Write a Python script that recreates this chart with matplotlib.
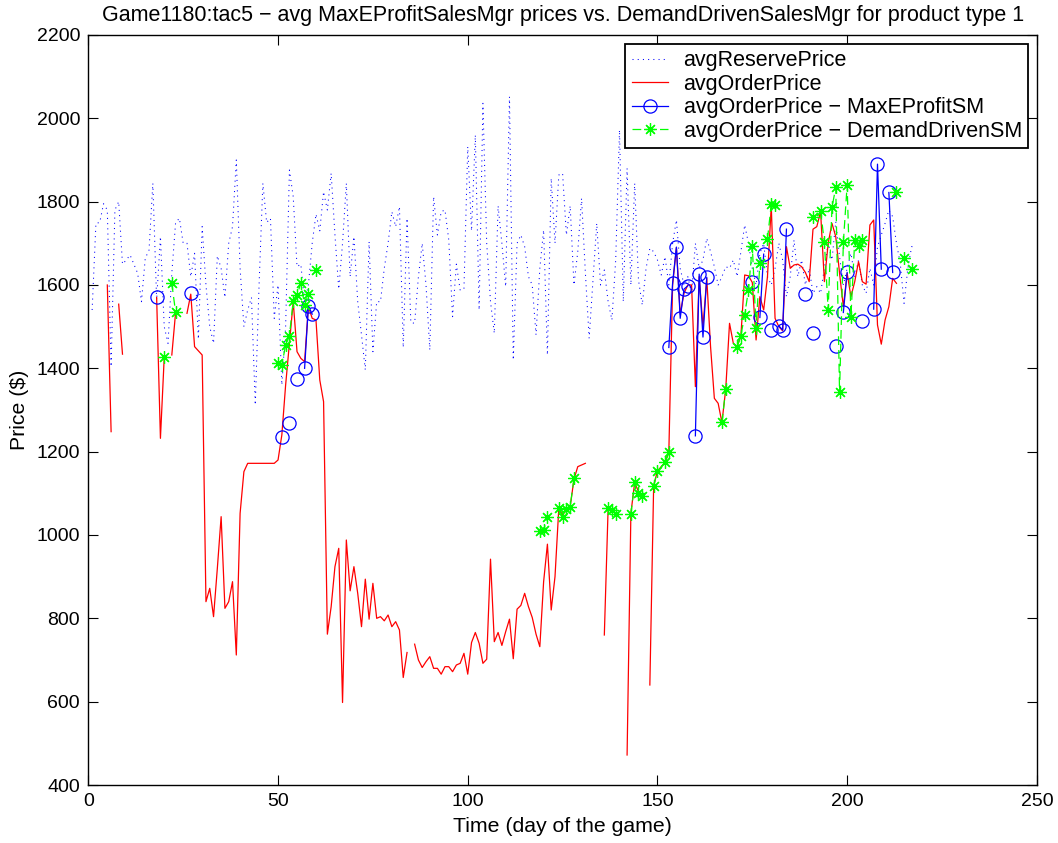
"""
Reserve vs. order prices per sales manager, product type 1 (Game1180:tac5).
"""
import numpy as np
import pandas as pd
import matplotlib
matplotlib.use("Agg")
import matplotlib.pyplot as plt

# Data (day -> $)

reserve_start_day = 1
reserve_price = [
    1540, 1748, 1750, 1795, 1780, 1404, 1780, 1800, 1650, 1660,   # 1-10
    1672, 1650, 1628, 1560, 1664, 1684, 1844, 1564, 1716, 1500,   # 11-20
    1460, 1628, 1750, 1760, 1700, 1700, 1620, 1676, 1470, 1740,   # 21-30
    1600, 1500, 1460, 1670, 1640, 1570, 1700, 1740, 1900, 1640,   # 31-40
    1500, 1540, 1570, 1312, 1600, 1844, 1750, 1760, 1520, 1600,   # 41-50
    1360, 1500, 1876, 1812, 1644, 1650, 1560, 1600, 1700, 1770,   # 51-60
    1730, 1824, 1780, 1868, 1720, 1590, 1700, 1844, 1620, 1716,   # 61-70
    1560, 1480, 1396, 1704, 1440, 1560, 1560, 1640, 1700, 1776,   # 71-80
    1740, 1788, 1450, 1760, 1510, 1508, 1620, 1700, 1600, 1444,   # 81-90
    1812, 1720, 1776, 1780, 1708, 1524, 1650, 1588, 1590, 1932,   # 91-100
    1730, 1960, 1540, 2036, 1700, 1560, 1484, 1790, 1700, 1596,   # 101-110
    2052, 1420, 1700, 1720, 1692, 1620, 1600, 1480, 1640, 1732,   # 111-120
    1432, 1856, 1700, 1864, 1868, 1720, 1790, 1600, 1680, 1808,   # 121-130
    1630, 1472, 1610, 1748, 1600, 1636, 1560, 1516, 1660, 1972,   # 131-140
    1560, 1880, 1600, 1844, 1612, 1552, 1640, 1688, 1680, 1660,   # 141-150
    1624, 1668, 1600, 1700, 1756, 1640, 1600, 1620, 1580, 1700,   # 151-160
    1640, 1660, 1712, 1680, 1644, 1600, 1620, 1644, 1640, 1660,   # 161-170
    1620, 1680, 1744, 1700, 1640, 1600, 1676, 1700, 1620, 1600,   # 171-180
    1640, 1700, 1660, 1572, 1620, 1708, 1620, 1660, 1600, 1640,   # 181-190
    1580, 1596, 1580, 1640, 1700, 1660, 1752, 1668, 1600, 1640,   # 191-200
    1676, 1620, 1660, 1600, 1580, 1640, 1600, 1692, 1720, 1748,   # 201-210
    1780, 1764, 1700, 1652, 1556, 1640, 1692, 1692,               # 211-218
]

order_days = [
    5, 6, 8, 9, 18, 19, 20, 22, 23, 26, 27, 28, 29, 30,
    31, 32, 33, 34, 35, 36, 37, 38, 39, 40, 41, 42, 43, 44, 45,
    46, 47, 48, 49, 50, 51, 52, 53, 54, 55, 56, 57, 58, 59, 60,
    61, 62, 63, 64, 65, 66, 67, 68, 69, 70, 71, 72, 73, 74, 75,
    76, 77, 78, 79, 80, 81, 82, 83, 84, 86, 87, 88, 89, 90,
    91, 92, 93, 94, 95, 96, 97, 98, 99, 100, 101, 102, 103, 104, 105,
    106, 107, 108, 109, 110, 111, 112, 113, 114, 115, 116, 117, 118, 119, 120,
    121, 122, 123, 124, 125, 126, 127, 128, 129, 130, 131,
    136, 137, 138, 139, 142, 143, 144, 145, 146, 148, 149, 150, 151, 152, 153,
    154, 155, 156, 157, 158, 159, 160, 161, 162, 163, 164, 165, 166, 167, 168,
    169, 170, 171, 172, 173, 174, 175, 176, 177, 178, 179, 180, 181, 182, 183,
    184, 185, 186, 187, 188, 189, 190, 191, 192, 193, 194, 195, 196, 197, 198,
    199, 200, 201, 202, 203, 204, 205, 206, 207, 208, 209, 210, 211, 212, 213,
]
order_price = [
    1600, 1248, 1554, 1434, 1570, 1232, 1426, 1432, 1534, 1532, 1578, 1452, 1442, 1432,
    840, 872, 804, 920, 1044, 824, 840, 888, 712, 1052, 1152, 1172, 1172, 1172, 1172,
    1172, 1172, 1172, 1172, 1180, 1240, 1360, 1460, 1560, 1440, 1424, 1416, 1548, 1520, 1516,
    1372, 1320, 762, 828, 924, 968, 598, 988, 866, 924, 860, 780, 894, 798, 884,
    800, 804, 794, 808, 780, 792, 772, 658, 718, 738, 700, 682, 696, 708,
    680, 680, 666, 684, 684, 672, 688, 692, 716, 666, 742, 766, 740, 692, 702,
    942, 744, 766, 735, 768, 798, 703, 822, 831, 860, 828, 802, 762, 732, 888,
    978, 820, 900, 1064, 1048, 1060, 1068, 1134, 1164, 1168, 1172,
    760, 1064, 1060, 1050, 472, 1052, 1126, 1104, 1094, 640, 1118, 1154, 1164, 1174, 1198,
    1600, 1690, 1530, 1580, 1600, 1600, 1356, 1620, 1500, 1616, 1452, 1328, 1316, 1270, 1350,
    1508, 1460, 1452, 1478, 1624, 1622, 1606, 1468, 1572, 1540, 1620, 1790, 1520, 1500, 1490,
    1692, 1640, 1648, 1650, 1644, 1630, 1608, 1734, 1740, 1776, 1608, 1700, 1748, 1716, 1628,
    1548, 1628, 1572, 1608, 1656, 1608, 1602, 1744, 1756, 1504, 1458, 1516, 1548, 1616, 1604,
]

maxe_days = [
    18, 27, 51, 53, 55, 57, 58, 59, 153, 154, 155, 156, 157, 158,
    160, 161, 162, 163, 175, 177, 178, 180, 182, 183, 184, 189, 191,
    197, 199, 200, 204, 207, 208, 209, 211, 212,
]
maxe_price = [
    1572, 1580, 1236, 1268, 1374, 1400, 1550, 1530, 1450, 1605, 1691, 1520, 1590, 1598,
    1238, 1626, 1475, 1618, 1606, 1522, 1674, 1492, 1502, 1492, 1734, 1578, 1484,
    1454, 1534, 1630, 1513, 1542, 1890, 1638, 1822, 1630,
]

demand_days = [
    20, 22, 23, 50, 51, 52, 53, 54, 55, 56, 57, 58, 60,
    119, 120, 121, 124, 125, 126, 127, 128, 137, 138, 139,
    143, 144, 145, 146, 149, 150, 152, 153, 167, 168,
    171, 172, 173, 174, 175, 176, 177, 179, 180, 181,
    191, 193, 194, 195, 196, 197, 198, 199, 200, 201, 202, 203, 204,
    213, 215, 217,
]
demand_price = [
    1426, 1604, 1534, 1412, 1408, 1456, 1478, 1562, 1576, 1604, 1552, 1578, 1636,
    1010, 1012, 1042, 1064, 1044, 1062, 1068, 1136, 1064, 1060, 1050,
    1050, 1126, 1100, 1094, 1118, 1154, 1174, 1198, 1270, 1350,
    1452, 1478, 1529, 1588, 1694, 1496, 1652, 1710, 1794, 1792,
    1762, 1778, 1702, 1540, 1786, 1834, 1342, 1702, 1840, 1524, 1708, 1694, 1708,
    1822, 1664, 1638,
]

TITLE = ("Game1180:tac5 \u2212 avg MaxEProfitSalesMgr prices vs. "
         "DemandDrivenSalesMgr for product type 1")


def daily(days, values):
    """Put sparse day values on a full daily index, NaN where no value."""
    s = pd.Series(values, index=days, dtype=float)
    return s.reindex(range(0, 221))


def main():
    plt.rcParams["font.family"] = ["Liberation Sans", "DejaVu Sans"]

    fig = plt.figure(figsize=(10.58, 8.43), dpi=100)
    ax = fig.add_axes([0.0835, 0.0688, 0.8965, 0.8897])

    reserve_days = list(range(reserve_start_day,
                              reserve_start_day + len(reserve_price)))
    order = daily(order_days, order_price)
    maxe = daily(maxe_days, maxe_price)
    demand = daily(demand_days, demand_price)

    ax.plot(reserve_days, reserve_price, color="blue", lw=0.75,
            dashes=(1, 4), label="avgReservePrice")
    ax.plot(order.index, order.values, color="red", lw=0.9,
            label="avgOrderPrice")
    ax.plot(maxe.index, maxe.values, color="blue", lw=0.9, marker="o",
            ms=9.5, mfc="none", mew=0.9,
            label="avgOrderPrice \u2212 MaxEProfitSM")
    ax.plot(demand.index, demand.values, color="#00ff00", lw=0.9,
            dashes=(7, 4), marker=(8, 2, 0), ms=9, mew=0.9,
            label="avgOrderPrice \u2212 DemandDrivenSM")

    ax.set_xlim(0, 250)
    ax.set_ylim(400, 2200)
    ax.set_xticks(range(0, 251, 50))
    ax.set_yticks(range(400, 2201, 200))
    ax.tick_params(direction="in", length=7, width=0.8, labelsize=14,
                   top=True, right=True, pad=6)
    for spine in ax.spines.values():
        spine.set_linewidth(1.0)

    ax.set_title(TITLE, fontsize=15.5, pad=10)
    ax.set_xlabel("Time (day of the game)", fontsize=15.3, labelpad=5)
    ax.set_ylabel("Price ($)", fontsize=15.3, labelpad=5)

    leg = ax.legend(loc="upper right", fontsize=15.5, fancybox=False,
                    framealpha=1, edgecolor="black", handlelength=1.7,
                    handletextpad=0.7, borderaxespad=0.4,
                    labelspacing=0.12, borderpad=0.3)
    leg.get_frame().set_linewidth(1.3)

    fig.savefig("out.png", dpi=100)
    plt.close(fig)


if __name__ == "__main__":
    main()
